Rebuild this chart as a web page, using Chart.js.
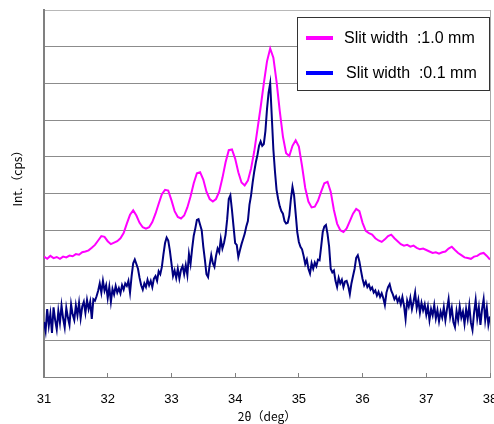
<!DOCTYPE html>
<html>
<head>
<meta charset="utf-8">
<script src="https://cdn.jsdelivr.net/npm/chart.js@4/dist/chart.umd.min.js"></script>
<style>
  html, body { margin: 0; padding: 0; background: #fff; }
</style>
</head>
<body>
<canvas id="xrdChart" width="494" height="424"></canvas>
<script>
// 2theta sampling of each scan (deg)
const wideStart = 31, wideStep = 0.05;
const narrowStart = 31, narrowStep = 0.025;
const xTicks = [31, 32, 33, 34, 35, 36, 37, 38];

// Slit width 1.0 mm, 31.00 .. 38.00 every 0.05
const wideSlit = [
  3.28, 3.22, 3.30, 3.24, 3.27, 3.22, 3.28, 3.26, 3.31, 3.29,
  3.35, 3.33, 3.40, 3.42, 3.45, 3.52, 3.60, 3.72, 3.84, 3.82,
  3.70, 3.62, 3.66, 3.70, 3.78, 3.92, 4.18, 4.42, 4.54, 4.40,
  4.20, 4.08, 4.04, 4.08, 4.22, 4.45, 4.72, 4.98, 5.10, 5.08,
  4.82, 4.52, 4.36, 4.32, 4.40, 4.62, 4.92, 5.28, 5.55, 5.58,
  5.38, 5.05, 4.85, 4.78, 4.85, 5.05, 5.42, 5.85, 6.18, 6.20,
  5.95, 5.58, 5.30, 5.22, 5.35, 5.68, 6.15, 6.75, 7.35, 8.00,
  8.60, 8.95, 8.70, 8.05, 7.25, 6.55, 6.10, 6.02, 6.30, 6.45,
  6.28, 5.75, 5.15, 4.78, 4.62, 4.64, 4.80, 5.05, 5.28, 5.32,
  5.05, 4.55, 4.18, 4.00, 3.95, 4.05, 4.25, 4.45, 4.58, 4.52,
  4.20, 3.98, 3.92, 3.88, 3.78, 3.72, 3.68, 3.75, 3.84, 3.88,
  3.78, 3.70, 3.62, 3.58, 3.60, 3.55, 3.58, 3.52, 3.48, 3.50,
  3.46, 3.42, 3.38, 3.40, 3.36, 3.40, 3.42, 3.50, 3.55, 3.46,
  3.38, 3.32, 3.26, 3.24, 3.22, 3.28, 3.30, 3.36, 3.38, 3.30,
  3.20
];

// Slit width 0.1 mm, 31.000 .. 38.000 every 0.025
const narrowSlit = [
  1.50, 1.25, 1.85, 1.40, 1.72, 1.20, 1.90, 1.55, 1.30, 1.80,
  1.48, 1.95, 1.60, 1.35, 1.88, 1.62, 1.42, 1.98, 1.70, 1.55,
  1.95, 1.68, 2.02, 1.60, 1.92, 2.05, 1.75, 2.10, 1.85, 2.05,
  1.58, 2.12, 2.08, 2.20, 2.35, 2.55, 2.30, 2.62, 2.35, 2.50,
  2.15, 2.45, 2.05, 2.40, 2.25, 2.48, 2.30, 2.42, 2.28, 2.50,
  2.38, 2.55, 2.48, 2.62, 2.30, 2.75, 3.10, 3.20, 3.08, 2.95,
  2.70, 2.50, 2.38, 2.55, 2.45, 2.65, 2.50, 2.62, 2.45, 2.68,
  2.75, 2.62, 2.88, 2.80, 3.00, 3.35, 3.65, 3.80, 3.72, 3.45,
  3.10, 2.75, 2.90, 2.70, 2.95, 2.68, 2.92, 3.02, 2.80, 3.05,
  2.78, 3.35, 3.08, 3.50, 3.85, 4.05, 4.28, 4.30, 4.15, 4.00,
  3.55, 3.20, 2.80, 2.72, 3.05, 3.32, 3.10, 3.00, 3.30, 3.50,
  3.40, 3.76, 3.50, 3.65, 3.88, 4.30, 4.85, 4.95, 4.55, 4.10,
  3.65, 3.60, 3.27, 3.45, 3.62, 3.76, 3.90, 4.10, 4.25, 4.70,
  4.95, 5.30, 5.60, 5.85, 6.05, 6.30, 6.42, 6.30, 6.35, 6.70,
  7.30, 7.75, 8.00, 7.10, 6.20, 5.60, 5.10, 4.85, 4.65, 4.52,
  4.45, 4.25, 4.18, 4.20, 4.40, 4.85, 5.18, 4.95, 4.45, 3.95,
  3.68, 3.55, 3.48, 3.30, 3.08, 3.20, 2.95, 2.82, 3.10, 2.95,
  3.12, 3.02, 3.20, 3.18, 3.55, 3.95, 4.10, 4.14, 3.90, 3.55,
  2.95, 2.85, 2.90, 2.62, 2.45, 2.70, 2.55, 2.65, 2.45, 2.60,
  2.62, 2.48, 2.26, 2.55, 2.75, 2.95, 3.25, 3.32, 3.15, 2.90,
  2.67, 2.50, 2.60, 2.45, 2.52, 2.38, 2.44, 2.30, 2.36, 2.22,
  2.32, 2.18, 2.28, 2.15, 1.96, 2.30, 2.45, 2.53, 2.35, 2.25,
  2.12, 2.20, 2.05, 2.15, 1.98, 2.18, 1.95, 1.58, 2.08, 1.92,
  2.15, 1.85, 2.05, 2.30, 1.88, 2.10, 1.75, 2.02, 1.82, 1.98,
  1.70, 1.92, 1.55, 1.85, 1.68, 1.96, 1.60, 1.82, 1.52, 1.78,
  1.62, 1.90, 1.55, 1.85, 2.12, 1.65, 1.88, 1.50, 1.36, 1.80,
  1.55, 1.92, 1.62, 1.78, 1.45, 1.85, 1.58, 1.95, 1.48, 1.28,
  1.75, 2.10, 1.60, 1.90, 1.42, 1.85, 2.12, 1.55, 1.88, 1.42,
  1.65
];

const seriesLabels = ['Slit width  :1.0 mm', 'Slit width  :0.1 mm'];

const toPoints = (values, start, step) =>
  values.map((v, i) => ({ x: +(start + i * step).toFixed(3), y: v }));

// legend box drawn inside the plot, top right
const boxLegend = {
  id: 'boxLegend',
  afterDraw(chart) {
    const { ctx, chartArea } = chart;
    const w = 192, h = 73;
    const x = chartArea.right - w - 1;
    const y = chartArea.top + 7;
    ctx.save();
    ctx.fillStyle = '#fff';
    ctx.fillRect(x, y, w, h);
    ctx.strokeStyle = '#333';
    ctx.lineWidth = 1;
    ctx.strokeRect(x + 0.5, y + 0.5, w, h);
    ctx.font = '16px "Liberation Sans", Arial, sans-serif';
    ctx.textBaseline = 'middle';
    chart.data.datasets.forEach((ds, i) => {
      const ly = y + 21 + i * 35;
      ctx.strokeStyle = ds.legendColor;
      ctx.lineWidth = 4;
      ctx.beginPath();
      ctx.moveTo(x + 9, ly);
      ctx.lineTo(x + 36, ly);
      ctx.stroke();
      ctx.fillStyle = '#000';
      ctx.fillText(ds.label, x + 47 + i * 2, ly + 1);
    });
    ctx.restore();
  }
};

const ctx = document.getElementById('xrdChart').getContext('2d');
new Chart(ctx, {
  type: 'line',
  data: {
    datasets: [
      {
        label: seriesLabels[0],
        data: toPoints(wideSlit, wideStart, wideStep),
        borderColor: '#ff00ff',
        legendColor: '#ff00ff',
        borderWidth: 2,
        pointRadius: 0,
        tension: 0
      },
      {
        label: seriesLabels[1],
        data: toPoints(narrowSlit, narrowStart, narrowStep),
        borderColor: '#000080',
        legendColor: '#0000ff',
        borderWidth: 2,
        pointRadius: 0,
        tension: 0
      }
    ]
  },
  options: {
    responsive: false,
    animation: false,
    layout: { padding: { top: 10, right: 4, left: 0, bottom: 0 } },
    plugins: {
      legend: { display: false },
      tooltip: { enabled: false }
    },
    scales: {
      x: {
        type: 'linear',
        min: 31,
        max: 38,
        afterBuildTicks: (s) => { s.ticks = xTicks.map(v => ({ value: v })); },
        afterFit: (s) => { s.height = 47; s.paddingLeft = 0; s.paddingRight = 0; },
        ticks: {
          color: '#000',
          padding: 19,
          maxRotation: 0,
          font: { family: '"Liberation Sans", Arial, sans-serif', size: 13 }
        },
        grid: {
          color: (c) => (c.tick && c.tick.value === 38 ? '#a8a8a8' : 'rgba(0,0,0,0)'),
          tickColor: '#808080',
          tickLength: -4
        },
        border: { color: '#808080', width: 1 },
        title: {
          display: true,
          text: '2θ（deg）',
          color: '#000',
          padding: { top: -2, bottom: 0 },
          font: { family: '"Noto Sans CJK JP", sans-serif', size: 12 }
        }
      },
      y: {
        min: 0,
        max: 10,
        ticks: { display: false, stepSize: 1 },
        afterFit: (s) => { s.width = 44; },
        grid: {
          color: (c) => (c.tick && c.tick.value === 10 ? '#b8b8b8' : '#8c8c8c'),
          drawTicks: false
        },
        border: { color: '#808080', width: 2 },
        title: {
          display: true,
          text: '　　　Int.（cps）',
          color: '#000',
          padding: { top: 10, bottom: 0 },
          font: { family: '"Noto Sans CJK JP", sans-serif', size: 12 }
        }
      }
    }
  },
  plugins: [boxLegend]
});
</script>
</body>
</html>
